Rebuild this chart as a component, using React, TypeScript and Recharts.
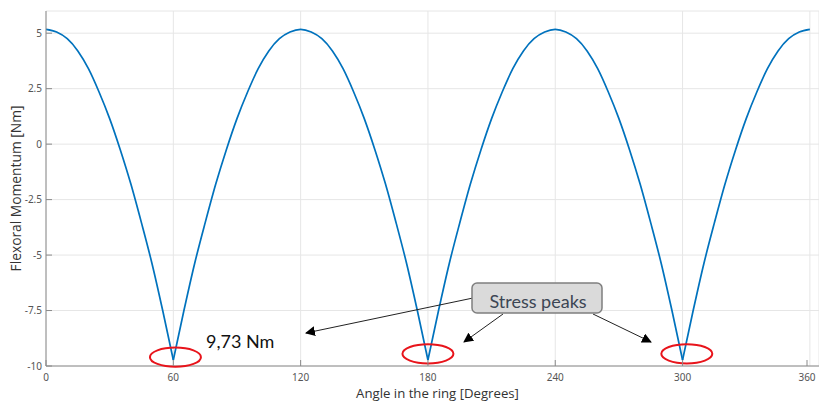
import { LineChart, Line, XAxis, YAxis, CartesianGrid, ReferenceDot } from 'recharts';

const angles = [
  0, 5, 10, 15, 20, 25, 30, 35, 40, 45, 50, 55, 60,
  65, 70, 75, 80, 85, 90, 95, 100, 105, 110, 115, 120,
  125, 130, 135, 140, 145, 150, 155, 160, 165, 170, 175, 180,
  185, 190, 195, 200, 205, 210, 215, 220, 225, 230, 235, 240,
  245, 250, 255, 260, 265, 270, 275, 280, 285, 290, 295, 300,
  305, 310, 315, 320, 325, 330, 335, 340, 345, 350, 355, 360,
];

const moment = [
  5.17, 5.05, 4.75, 4.2, 3.4, 2.35, 1.15, -0.25, -1.8, -3.55, -5.4, -7.5, -9.73,
  -7.5, -5.4, -3.55, -1.8, -0.25, 1.15, 2.35, 3.4, 4.2, 4.75, 5.05, 5.17,
  5.05, 4.75, 4.2, 3.4, 2.35, 1.15, -0.25, -1.8, -3.55, -5.4, -7.5, -9.73,
  -7.5, -5.4, -3.55, -1.8, -0.25, 1.15, 2.35, 3.4, 4.2, 4.75, 5.05, 5.17,
  5.05, 4.75, 4.2, 3.4, 2.35, 1.15, -0.25, -1.8, -3.55, -5.4, -7.5, -9.73,
  -7.5, -5.4, -3.55, -1.8, -0.25, 1.15, 2.35, 3.4, 4.2, 4.75, 5.05, 5.17,
];

// angles where the load points sit (curve has a cusp there)
const loadAngles = [60, 180, 300];

const xTicks = [0, 60, 120, 180, 240, 300, 360];
const yTicks = [-10, -7.5, -5, -2.5, 0, 2.5, 5];

// circled stress peaks (angle, moment)
const peakMarks = [
  { x: 61, y: -9.6 },
  { x: 180, y: -9.45 },
  { x: 302, y: -9.45 },
];

// split the curve at the cusps so each piece can be smoothed on its own
const bounds = [0, ...loadAngles, 360];
const segKeys = bounds.slice(1).map((_, i) => `s${i}`);
const data = angles.map((a, i) => {
  const row: Record<string, number | null> = { angle: a };
  segKeys.forEach((k, j) => {
    row[k] = a >= bounds[j] && a <= bounds[j + 1] ? moment[i] : null;
  });
  return row;
});

const AXIS = '#8a8a8a';
const TICK_TEXT = '#555';

function BottomTick({ x, y, payload }: any) {
  return (
    <g>
      <line x1={x} y1={y} x2={x} y2={y - 6} stroke={AXIS} />
      <text x={x} y={y + 15} textAnchor="middle" fontSize={10} fill={TICK_TEXT} fontFamily="Noto Sans">
        {payload.value}
      </text>
    </g>
  );
}

function TopTick({ x, y }: any) {
  return <line x1={x} y1={y} x2={x} y2={y + 7} stroke={AXIS} />;
}

function LeftTick({ x, y, payload }: any) {
  return (
    <g>
      <line x1={x + 4} y1={y} x2={x + 10} y2={y} stroke={AXIS} />
      <text x={x} y={y + 3.5} textAnchor="end" fontSize={10} fill={TICK_TEXT} fontFamily="Noto Sans">
        {payload.value}
      </text>
    </g>
  );
}

function PeakEllipse({ cx, cy }: any) {
  return <ellipse cx={cx} cy={cy} rx={25.5} ry={9.6} fill="none" stroke="#e8141b" strokeWidth={2} />;
}

export default function App() {
  return (
    <div style={{ position: 'absolute', left: 0, top: 0, width: 819, height: 402, background: '#fff' }}>
      <LineChart width={819} height={402} data={data} margin={{ top: 11, right: 0, bottom: 0, left: 0 }}>
        <CartesianGrid stroke="#e6e6e6" strokeWidth={1} />
        <XAxis
          dataKey="angle"
          type="number"
          domain={[0, 364.3]}
          ticks={xTicks}
          height={36}
          tickSize={0}
          tickMargin={0}
          tickLine={false}
          tick={<BottomTick />}
          stroke={AXIS}
          allowDataOverflow
          label={{
            value: 'Angle in the ring [Degrees]',
            position: 'insideBottom',
            offset: 3,
            dx: 5,
            dy: -1,
            fontSize: 13.2,
            fill: '#333',
            fontFamily: 'Open Sans',
          }}
        />
        <XAxis
          xAxisId="top"
          orientation="top"
          dataKey="angle"
          type="number"
          domain={[0, 364.3]}
          ticks={xTicks}
          height={0}
          tickSize={0}
          tickLine={false}
          tick={<TopTick />}
          stroke={AXIS}
          allowDataOverflow
        />
        <YAxis
          type="number"
          domain={[-10, 6]}
          ticks={yTicks}
          width={46}
          tickSize={0}
          tickMargin={4}
          tickLine={false}
          tick={<LeftTick />}
          stroke={AXIS}
          allowDataOverflow
          label={{
            value: 'Flexoral Momentum [Nm]',
            angle: -90,
            position: 'insideLeft',
            offset: 0,
            dx: 16,
            fontSize: 13.8,
            fill: '#333',
            fontFamily: 'Open Sans',
            style: { textAnchor: 'middle' },
          }}
        />
        {segKeys.map((k) => (
          <Line
            key={k}
            type="monotone"
            dataKey={k}
            stroke="#0072BD"
            strokeWidth={1.7}
            dot={false}
            connectNulls={false}
            isAnimationActive={false}
          />
        ))}
        {peakMarks.map((p, i) => (
          <ReferenceDot key={i} x={p.x} y={p.y} r={10} shape={<PeakEllipse />} ifOverflow="visible" />
        ))}
      </LineChart>
      <svg
        width={819}
        height={402}
        style={{ position: 'absolute', left: 0, top: 0, pointerEvents: 'none' }}
      >
        <defs>
          <marker id="ah" viewBox="0 0 10 10" refX="9" refY="5" markerWidth="10" markerHeight="10" orient="auto">
            <path d="M0,0 L10,5 L0,10 z" fill="#000" />
          </marker>
        </defs>
        <line x1={473} y1={298} x2={306} y2={333} stroke="#222" strokeWidth={1} markerEnd="url(#ah)" />
        <line x1={503} y1={314} x2={464} y2={342} stroke="#222" strokeWidth={1} markerEnd="url(#ah)" />
        <line x1={593} y1={314} x2={651} y2={342} stroke="#222" strokeWidth={1} markerEnd="url(#ah)" />
        <rect x={472} y={283} width={130} height={30} rx={5} fill="#dadada" stroke="#7f7f7f" strokeWidth={1.5} />
        <text x={538} y={307.5} textAnchor="middle" fontSize={18} fill="#3c4654" fontFamily="Lato">
          Stress peaks
        </text>
        <text x={206} y={348} fontSize={18} fill="#111" fontFamily="Lato">
          9,73 Nm
        </text>
      </svg>
    </div>
  );
}
